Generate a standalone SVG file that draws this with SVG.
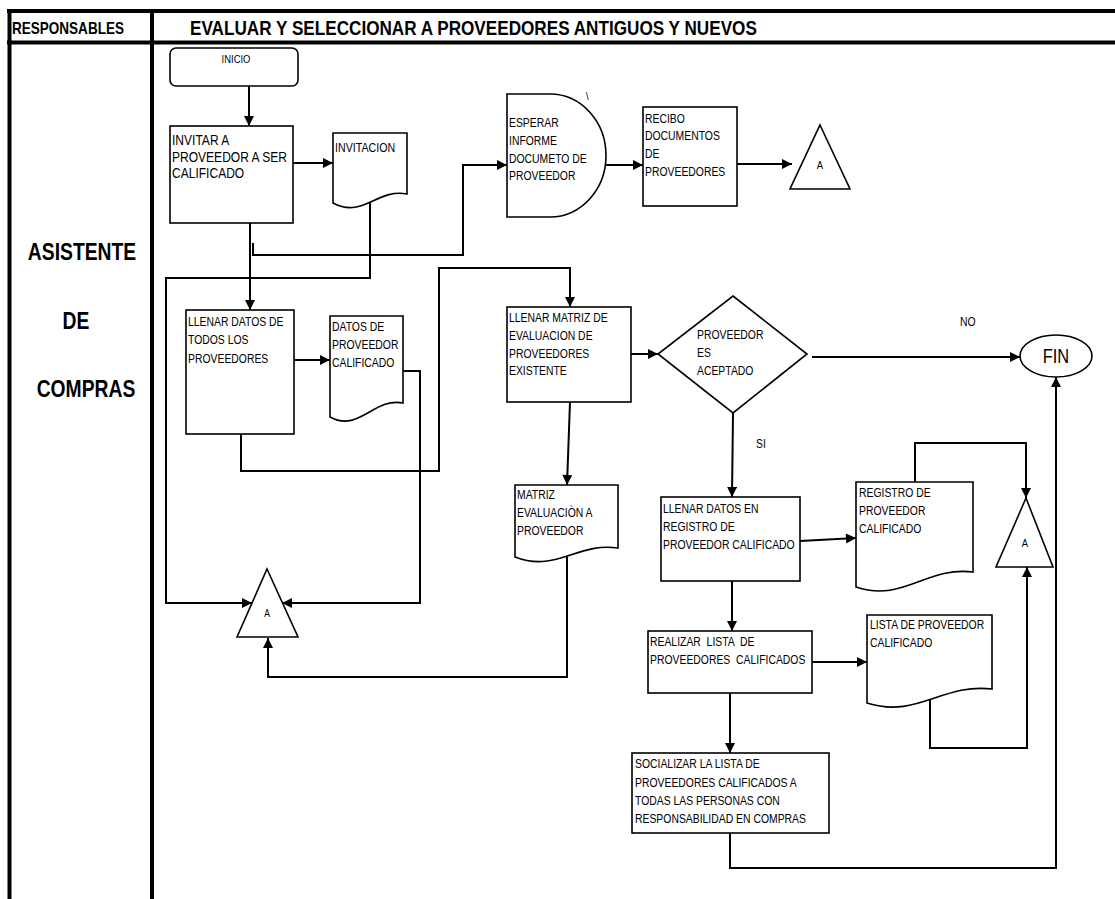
<svg xmlns="http://www.w3.org/2000/svg" width="1115" height="899" viewBox="0 0 1115 899">
  <style>
    .frame { stroke:#000; stroke-width:4; fill:none; }
    .shape { stroke:#000; stroke-width:1.6; fill:#fff; }
    .conn { stroke:#000; stroke-width:2; fill:none; }
    /* narrow sans look: regular Liberation Sans squeezed horizontally via transform */
    .t { font-family:"Liberation Sans",Arial,sans-serif; font-size:13px; fill:#000; }
    .b { font-weight:bold; }
    .big { font-size:14px; }
    .small { font-size:11.5px; }
    .tiny { font-size:10.5px; }
    .lane { font-size:23px; }
    .hdr { font-size:16.5px; }
    .title { font-size:20.9px; }
    .fin { font-size:20px; }
  </style>
  <defs>
    <marker id="ah" viewBox="0 0 10 10" refX="10" refY="5" markerWidth="11" markerHeight="10" markerUnits="userSpaceOnUse" orient="auto">
      <path d="M0,0 L10,5 L0,10 z" fill="#000"/>
    </marker>
  </defs>

  <rect x="0" y="0" width="1115" height="899" fill="#fff"/>

  <!-- swimlane frame -->
  <g id="frame">
    <line class="frame" x1="7" y1="11" x2="1115" y2="11"/>
    <line class="frame" x1="7" y1="42.5" x2="1115" y2="42.5"/>
    <line class="frame" x1="9.5" y1="9" x2="9.5" y2="899" stroke-width="3.5"/>
    <line class="frame" x1="152" y1="9" x2="152" y2="899"/>
    <text class="t b hdr" transform="translate(12,34) scale(.82,1)">RESPONSABLES</text>
    <text class="t b title" transform="translate(190,35) scale(.82,1)">EVALUAR Y SELECCIONAR A PROVEEDORES ANTIGUOS Y NUEVOS</text>
    <text class="t b lane" text-anchor="middle" transform="translate(82,260) scale(.84,1)">ASISTENTE</text>
    <text class="t b lane" text-anchor="middle" transform="translate(76,329) scale(.84,1)">DE</text>
    <text class="t b lane" text-anchor="middle" transform="translate(86,397) scale(.84,1)">COMPRAS</text>
  </g>

  <!-- connectors -->
  <g id="connectors">
    <path class="conn" d="M249,86 V126" marker-end="url(#ah)"/>
    <path class="conn" d="M293,163 H333" marker-end="url(#ah)"/>
    <path class="conn" d="M250,223 V310" marker-end="url(#ah)"/>
    <path class="conn" d="M253,243 V255 H463 V165 H507" marker-end="url(#ah)"/>
    <path class="conn" d="M370,200 V278 H166 V603 H252" marker-end="url(#ah)"/>
    <path class="conn" d="M600,165 H643" marker-end="url(#ah)"/>
    <path class="conn" d="M737,164 H792" marker-end="url(#ah)"/>
    <path class="conn" d="M294,360 H330" marker-end="url(#ah)"/>
    <path class="conn" d="M403,371 H420 V603 H282" marker-end="url(#ah)"/>
    <path class="conn" d="M241,434 V471 H439 V268 H570 V307" marker-end="url(#ah)"/>
    <path class="conn" d="M631,354 H658" marker-end="url(#ah)"/>
    <path class="conn" d="M812,357 H1020" marker-end="url(#ah)"/>
    <path class="conn" d="M570,402 L567,485" marker-end="url(#ah)"/>
    <path class="conn" d="M567,553 V677 H268 V638" marker-end="url(#ah)"/>
    <path class="conn" d="M733,413 L732,497" marker-end="url(#ah)"/>
    <path class="conn" d="M800,541 L856,538" marker-end="url(#ah)"/>
    <path class="conn" d="M915,482 V443 H1026 V498" marker-end="url(#ah)"/>
    <path class="conn" d="M732,581 V631" marker-end="url(#ah)"/>
    <path class="conn" d="M812,662 H867" marker-end="url(#ah)"/>
    <path class="conn" d="M930,700 V748 H1027 V567" marker-end="url(#ah)"/>
    <path class="conn" d="M730,693 V753" marker-end="url(#ah)"/>
    <path class="conn" d="M730,833 V868 H1056 V377" marker-end="url(#ah)"/>
    <text class="t" transform="translate(960,326) scale(.8,1)">NO</text>
    <text class="t" transform="translate(756,448) scale(.8,1)">SI</text>
  </g>

  <!-- nodes -->
  <g id="inicio">
    <rect class="shape" x="170" y="48" width="128" height="38" rx="6"/>
    <text class="t small" text-anchor="middle" transform="translate(236,63) scale(.82,1)">INICIO</text>
  </g>

  <g id="invitar">
    <rect class="shape" x="170" y="126" width="123" height="97"/>
    <text class="t big" transform="translate(172,145) scale(.86,1)">INVITAR A</text>
    <text class="t big" transform="translate(172,162) scale(.86,1)">PROVEEDOR A SER</text>
    <text class="t big" transform="translate(172,178) scale(.86,1)">CALIFICADO</text>
  </g>

  <g id="invitacion">
    <path class="shape" d="M333,133 H407 V194 C377,188 363,219 333,203 Z"/>
    <text class="t" transform="translate(335,152) scale(.82,1)">INVITACION</text>
  </g>

  <g id="esperar">
    <path class="shape" d="M507,94 H550 A56,61.5 0 0 1 550,217 H507 Z"/>
    <text class="t small" transform="translate(586,100) scale(.82,1)">\</text>
    <text class="t" transform="translate(509,127) scale(.8,1)">ESPERAR</text>
    <text class="t" transform="translate(509,145) scale(.8,1)">INFORME</text>
    <text class="t" transform="translate(509,163) scale(.8,1)">DOCUMETO DE</text>
    <text class="t" transform="translate(509,180) scale(.8,1)">PROVEEDOR</text>
  </g>

  <g id="recibo">
    <rect class="shape" x="643" y="107" width="94" height="99"/>
    <text class="t" transform="translate(645,123) scale(.8,1)">RECIBO</text>
    <text class="t" transform="translate(645,140) scale(.8,1)">DOCUMENTOS</text>
    <text class="t" transform="translate(645,158) scale(.8,1)">DE</text>
    <text class="t" transform="translate(645,176) scale(.8,1)">PROVEEDORES</text>
  </g>

  <g id="conector-a-1">
    <path class="shape" d="M820,125 L850,189 L790,189 Z"/>
    <text class="t small" text-anchor="middle" transform="translate(820,169) scale(.82,1)">A</text>
  </g>

  <g id="llenar-datos">
    <rect class="shape" x="186" y="310" width="108" height="124"/>
    <text class="t" transform="translate(188,326) scale(.8,1)">LLENAR DATOS DE</text>
    <text class="t" transform="translate(188,344) scale(.8,1)">TODOS LOS</text>
    <text class="t" transform="translate(188,363) scale(.8,1)">PROVEEDORES</text>
  </g>

  <g id="datos-proveedor">
    <path class="shape" d="M330,316 H403 V403 C374,397 359,433 330,417 Z"/>
    <text class="t" transform="translate(332,331) scale(.8,1)">DATOS DE</text>
    <text class="t" transform="translate(332,349) scale(.8,1)">PROVEEDOR</text>
    <text class="t" transform="translate(332,367) scale(.8,1)">CALIFICADO</text>
  </g>

  <g id="conector-a-2">
    <path class="shape" d="M267,569 L298,637 L237,637 Z"/>
    <text class="t tiny" text-anchor="middle" transform="translate(267,617) scale(.82,1)">A</text>
  </g>

  <g id="llenar-matriz">
    <rect class="shape" x="507" y="307" width="124" height="95"/>
    <text class="t" transform="translate(509,322) scale(.8,1)">LLENAR MATRIZ DE</text>
    <text class="t" transform="translate(509,340) scale(.8,1)">EVALUACION DE</text>
    <text class="t" transform="translate(509,358) scale(.8,1)">PROVEEDORES</text>
    <text class="t" transform="translate(509,375) scale(.8,1)">EXISTENTE</text>
  </g>

  <g id="decision">
    <path class="shape" d="M733,296 L807,354 L733,413 L658,354 Z"/>
    <text class="t" transform="translate(697,339) scale(.8,1)">PROVEEDOR</text>
    <text class="t" transform="translate(697,357) scale(.8,1)">ES</text>
    <text class="t" transform="translate(697,375) scale(.8,1)">ACEPTADO</text>
  </g>

  <g id="fin">
    <ellipse class="shape" cx="1056" cy="356" rx="36" ry="21"/>
    <text class="t fin" text-anchor="middle" transform="translate(1056,363) scale(.82,1)">FIN</text>
  </g>

  <g id="matriz-evaluacion">
    <path class="shape" d="M515,485 H618 V548 C577,542 556,573 515,557 Z"/>
    <text class="t" transform="translate(517,499) scale(.8,1)">MATRIZ</text>
    <text class="t" transform="translate(517,517) scale(.8,1)">EVALUACIÒN A</text>
    <text class="t" transform="translate(517,535) scale(.8,1)">PROVEEDOR</text>
  </g>

  <g id="llenar-registro">
    <rect class="shape" x="661" y="497" width="139" height="84"/>
    <text class="t" transform="translate(663,513) scale(.8,1)">LLENAR DATOS EN</text>
    <text class="t" transform="translate(663,531) scale(.8,1)">REGISTRO DE</text>
    <text class="t" transform="translate(663,549) scale(.8,1)">PROVEEDOR CALIFICADO</text>
  </g>

  <g id="registro-proveedor">
    <path class="shape" d="M856,482 H973 V572 C926,566 903,603 856,587 Z"/>
    <text class="t" transform="translate(859,497) scale(.8,1)">REGISTRO DE</text>
    <text class="t" transform="translate(859,515) scale(.8,1)">PROVEEDOR</text>
    <text class="t" transform="translate(859,533) scale(.8,1)">CALIFICADO</text>
  </g>

  <g id="conector-a-3">
    <path class="shape" d="M1026,498 L1053,567 L996,567 Z"/>
    <text class="t small" text-anchor="middle" transform="translate(1025,547) scale(.82,1)">A</text>
  </g>

  <g id="realizar-lista">
    <rect class="shape" x="648" y="631" width="164" height="62"/>
    <text class="t" xml:space="preserve" transform="translate(650,646) scale(.8,1)">REALIZAR  LISTA  DE</text>
    <text class="t" xml:space="preserve" transform="translate(650,664) scale(.8,1)">PROVEEDORES  CALIFICADOS</text>
  </g>

  <g id="lista-proveedor">
    <path class="shape" d="M867,615 H992 V689 C942,683 917,719 867,703 Z"/>
    <text class="t" transform="translate(870,629) scale(.8,1)">LISTA DE PROVEEDOR</text>
    <text class="t" transform="translate(870,647) scale(.8,1)">CALIFICADO</text>
  </g>

  <g id="socializar">
    <rect class="shape" x="632" y="753" width="197" height="80"/>
    <text class="t" transform="translate(635,768) scale(.8,1)">SOCIALIZAR LA LISTA DE</text>
    <text class="t" transform="translate(635,787) scale(.8,1)">PROVEEDORES CALIFICADOS A</text>
    <text class="t" transform="translate(635,805) scale(.8,1)">TODAS LAS PERSONAS CON</text>
    <text class="t" transform="translate(635,823) scale(.8,1)">RESPONSABILIDAD EN COMPRAS</text>
  </g>
</svg>
